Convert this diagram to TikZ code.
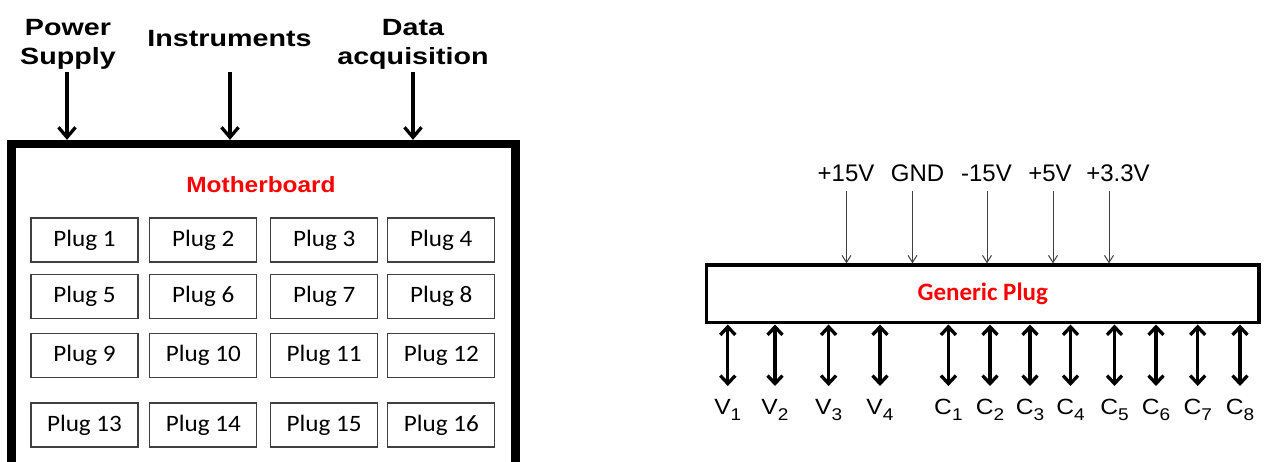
\documentclass[tikz,border=0pt]{standalone}
\usepackage{fontspec}
\setmainfont{Liberation Sans}
\newfontfamily\calfont{Carlito}
\usetikzlibrary{arrows.meta}
\definecolor{boxgray}{HTML}{404040}
\definecolor{plugred}{HTML}{FF0000}
\begin{document}
\begin{tikzpicture}[x=1pt,y=-1pt,
  hdr/.style={font=\fontsize{23.5}{29}\selectfont\bfseries, inner sep=0, align=center, anchor=base},
  plugbox/.style={draw=boxgray, line width=1.3pt, minimum width=107pt, minimum height=44pt, inner sep=0,
     font=\calfont\fontsize{23.5}{23.5}\selectfont},
  bigarrow/.style={line width=3.3pt, -{Straight Barb[length=10pt,width=17pt]}},
  thinarrow/.style={line width=1pt, draw=boxgray, -{Straight Barb[length=7pt,width=9pt]}},
  dblarrow/.style={line width=3.3pt, {Straight Barb[length=8pt,width=15pt]}-{Straight Barb[length=8pt,width=15pt]}},
  vlab/.style={font=\fontsize{24}{24}\selectfont, inner sep=0, anchor=base},
  siglab/.style={font=\fontsize{22}{22}\selectfont, inner sep=0, anchor=base}
]
\useasboundingbox (0,0) rectangle (1264,462);
\clip (0,0) rectangle (1264,462);
\fill[white] (0,0) rectangle (1264,462);

% ---------- left: motherboard ----------
\node[draw, line width=8.3pt, minimum width=504pt, minimum height=340pt, inner sep=0] (mb) at (263.5,314) {};

\node[hdr] (ps) at (68,65) {\scalebox{1.22}[1]{Power}\\\scalebox{1.22}[1]{Supply}};
\node[hdr] (ins) at (229.5,47) {\scalebox{1.22}[1]{Instruments}};
\node[hdr] (da) at (413,65) {\scalebox{1.22}[1]{Data}\\\scalebox{1.22}[1]{acquisition}};

\coordinate (psA) at (67,72);
\coordinate (insA) at (230,72);
\coordinate (daA) at (413,72);
\draw[bigarrow] (psA) -- (psA |- mb.north);
\draw[bigarrow] (insA) -- (insA |- mb.north);
\draw[bigarrow] (daA) -- (daA |- mb.north);

\node[font=\fontsize{22}{22}\selectfont\bfseries, text=plugred, inner sep=0, anchor=base] (mbl) at (261,192.3) {\scalebox{1.11}[1]{Motherboard}};

\foreach \n/\x/\y in {1/84.5/240, 2/203.3/240, 3/324.2/240, 4/441.3/240,
                      5/84.5/296.3, 6/203.3/296.3, 7/324.2/296.3, 8/441.3/296.3,
                      9/84.5/355.5, 10/203.3/355.5, 11/324.2/355.5, 12/441.3/355.5,
                      13/84.5/425, 14/203.3/425, 15/324.2/425, 16/441.3/425}
  \node[plugbox] (p\n) at (\x,\y) {\scalebox{1.07}[1]{Plug \n}};

% ---------- right: generic plug ----------
\node[draw, line width=3.5pt, minimum width=552.3pt, minimum height=57.7pt, inner sep=0,
      font=\calfont\fontsize{25}{25}\selectfont\bfseries, text=plugred] (gp) at (982.8,293.9) {\raisebox{-2pt}{Generic Plug}};

\foreach \name/\lx/\ax/\t in {a/846/846.5/+15V, b/917.5/912.5/GND, c/986.5/987/-15V, d/1050/1053/+5V, e/1118/1109/+3.3V}{
  \node[vlab] (l\name) at (\lx,181.7) {\t};
  \coordinate (c\name) at (\ax,191);
  \draw[thinarrow] (c\name) -- (c\name |- gp.north);
}

\foreach \name/\x/\L/\k in {v1/727.8/V/1, v2/775/V/2, v3/828.6/V/3, v4/880/V/4,
                          c1/948.4/C/1, c2/990/C/2, c3/1030/C/3, c4/1070.5/C/4,
                          c5/1114.5/C/5, c6/1156/C/6, c7/1197.7/C/7, c8/1240/C/8}{
  \coordinate (e\name) at (\x,386);
  \draw[dblarrow] (e\name |- gp.south) -- (e\name);
  \node[siglab] (t\name) at (\x,414) {\scalebox{1.12}[1]{\L\raisebox{-6pt}{\fontsize{17}{17}\selectfont\k}}};
}
\end{tikzpicture}
\end{document}
